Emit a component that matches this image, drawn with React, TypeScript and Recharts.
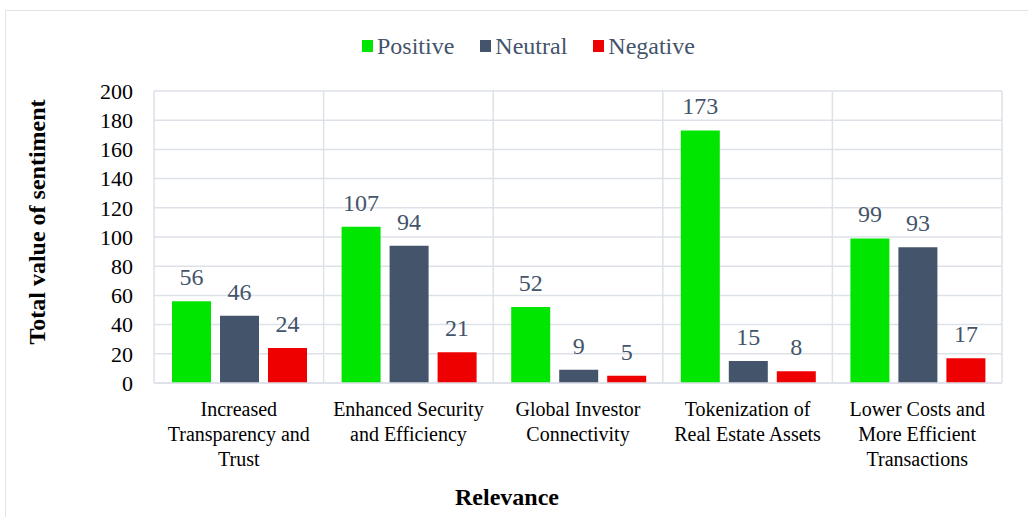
import { Bar, BarChart, CartesianGrid, LabelList, Legend, XAxis, YAxis } from 'recharts'

// Categories, split into the lines they wrap to.
const categories = [
  'Increased Transparency and Trust',
  'Enhanced Security and Efficiency',
  'Global Investor Connectivity',
  'Tokenization of Real Estate Assets',
  'Lower Costs and More Efficient Transactions',
]
const categoryLines = [
  ['Increased', 'Transparency and', 'Trust'],
  ['Enhanced Security', 'and Efficiency'],
  ['Global Investor', 'Connectivity'],
  ['Tokenization of', 'Real Estate Assets'],
  ['Lower Costs and', 'More Efficient', 'Transactions'],
]

// Series values.
const positive = [56, 107, 52, 173, 99]
const neutral = [46, 94, 9, 15, 93]
const negative = [24, 21, 5, 8, 17]

const yTicks = [0, 20, 40, 60, 80, 100, 120, 140, 160, 180, 200]

const data = categories.map((name, i) => ({
  name,
  positive: positive[i],
  neutral: neutral[i],
  negative: negative[i],
}))

const FONT = 'Liberation Serif'
const SLATE = '#44546a'

const legendItems = [
  { label: 'Positive', color: '#00e600' },
  { label: 'Neutral', color: SLATE },
  { label: 'Negative', color: '#ee0000' },
]

// Draws the wrapped category label.
function CategoryTick(props: any) {
  const { x, y, index } = props
  const lines = categoryLines[index] || []
  return (
    <text x={x} y={y} textAnchor="middle" style={{ fontFamily: FONT }} fontSize={20} fill="#000">
      {lines.map((line: string, i: number) => (
        <tspan key={i} x={x} dy={i === 0 ? 25 : 25}>
          {line}
        </tspan>
      ))}
    </text>
  )
}

function LegendContent() {
  return (
    <div style={{ display: 'flex', gap: 26, fontFamily: FONT, fontSize: 24, lineHeight: '30px', color: SLATE }}>
      {legendItems.map((item) => (
        <span key={item.label} style={{ display: 'flex', alignItems: 'center' }}>
          <span style={{ width: 11, height: 12, background: item.color, marginRight: 4 }} />
          {item.label}
        </span>
      ))}
    </div>
  )
}

const valueLabel = { position: 'top' as const, offset: 16, fill: SLATE, fontSize: 24, style: { fontFamily: FONT } }

export default function App() {
  return (
    <div
      style={{
        position: 'absolute',
        left: 0,
        top: 0,
        width: 1028,
        height: 517,
        background: '#fff',
        overflow: 'hidden',
        fontFamily: FONT,
      }}
    >
      <div
        style={{
          position: 'absolute',
          left: 5,
          top: 10,
          width: 1040,
          height: 530,
          border: '1px solid #e3e3e3',
        }}
      />
      <BarChart
        width={1028}
        height={517}
        data={data}
        margin={{ top: 61, right: 26, left: 0, bottom: 0 }}
        barCategoryGap={18}
        barGap={9}
        style={{ position: 'absolute', left: 0, top: 0, fontFamily: FONT }}
      >
        <CartesianGrid
          stroke="#dde1e8"
          strokeWidth={1.5}
          verticalCoordinatesGenerator={({ offset }: any) =>
            Array.from({ length: categories.length + 1 }, (_, i) => offset.left + (i * offset.width) / categories.length)
          }
        />
        <Legend
          verticalAlign="top"
          height={30}
          wrapperStyle={{ top: 31, left: 362, width: 'auto' }}
          content={LegendContent}
        />
        <XAxis
          dataKey="name"
          interval={0}
          height={134}
          tickLine={false}
          axisLine={{ stroke: '#dde1e8', strokeWidth: 1.5 }}
          tick={<CategoryTick />}
          label={{
            content: () => (
              <text x={507} y={505} textAnchor="middle" style={{ fontFamily: FONT }} fontSize={24} fontWeight="bold" fill="#000">
                Relevance
              </text>
            ),
          }}
        />
        <YAxis
          width={154}
          domain={[0, 200]}
          ticks={yTicks}
          interval={0}
          tickLine={false}
          axisLine={false}
          tickMargin={15}
          tick={{ fontSize: 22, fill: '#000', style: { fontFamily: FONT } }}
          label={{
            content: () => (
              <text
                x={45}
                y={222}
                textAnchor="middle"
                transform="rotate(-90 45 222)"
                style={{ fontFamily: FONT }}
                fontSize={24}
                fontWeight="bold"
                fill="#000"
              >
                Total value of sentiment
              </text>
            ),
          }}
        />
        <Bar dataKey="positive" name="Positive" fill="#00e600" isAnimationActive={false}>
          <LabelList dataKey="positive" {...valueLabel} />
        </Bar>
        <Bar dataKey="neutral" name="Neutral" fill={SLATE} isAnimationActive={false}>
          <LabelList dataKey="neutral" {...valueLabel} />
        </Bar>
        <Bar dataKey="negative" name="Negative" fill="#ee0000" isAnimationActive={false}>
          <LabelList dataKey="negative" {...valueLabel} />
        </Bar>
      </BarChart>
    </div>
  )
}
